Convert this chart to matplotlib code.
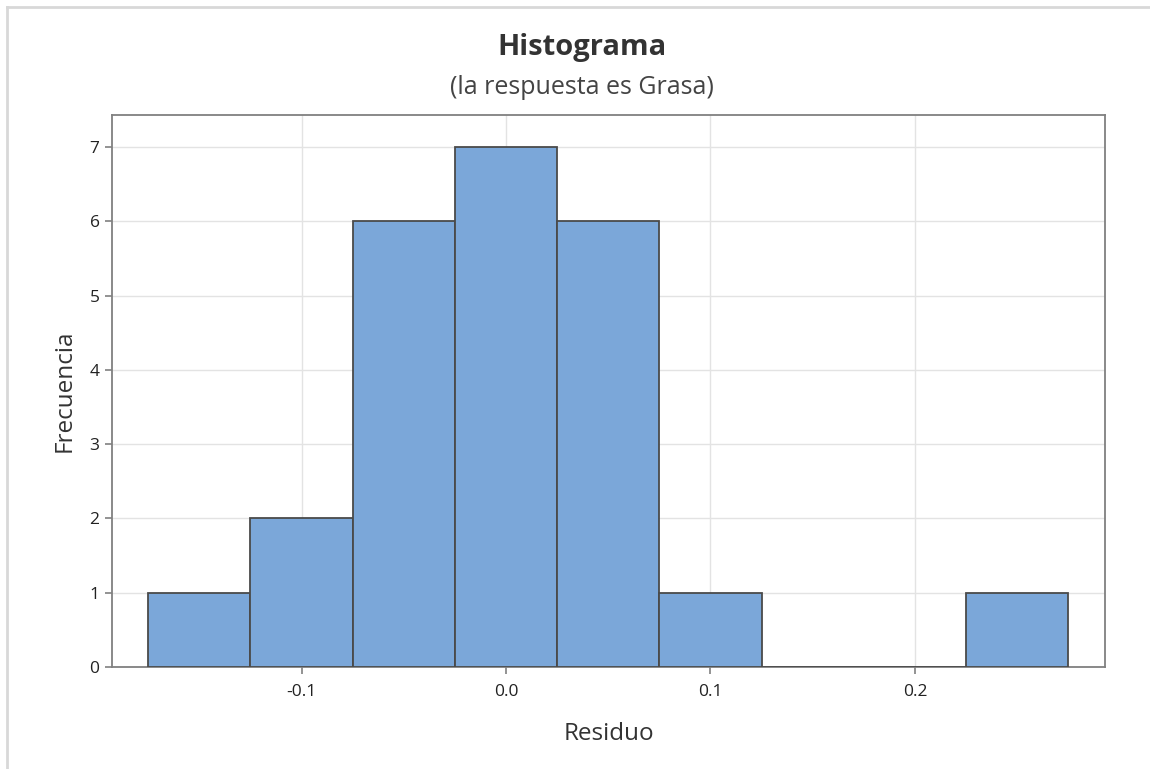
import numpy as np
import matplotlib
matplotlib.use('Agg')
from matplotlib import pyplot as plt
from matplotlib.lines import Line2D

# datos del histograma (centros de clase y frecuencias)
centros = [-0.15, -0.10, -0.05, 0.00, 0.05, 0.10, 0.15, 0.20, 0.25]
frecuencias = [1, 2, 6, 7, 6, 1, 0, 0, 1]
ancho = 0.05
xticks = [-0.1, 0.0, 0.1, 0.2]
xtick_labels = ['-0.1', '0.0', '0.1', '0.2']
yticks = [0, 1, 2, 3, 4, 5, 6, 7]

plt.rcParams['font.family'] = ['Open Sans', 'DejaVu Sans']

fig = plt.figure(figsize=(11.5, 7.69), dpi=100)
ax = fig.add_axes([0.0974, 0.1326, 0.8635, 0.7179])

ax.bar(centros, frecuencias, width=ancho, color='#7BA7D9',
       edgecolor='#4a4a4a', linewidth=1.3, zorder=3)

ax.set_xlim(-0.1927, 0.293)
ax.set_ylim(0, 7.43)
ax.set_xticks(xticks)
ax.set_xticklabels(xtick_labels)
ax.set_yticks(yticks)
ax.grid(True, color='#e3e3e3', linewidth=1.0, zorder=0)
ax.set_axisbelow(True)

for s in ax.spines.values():
    s.set_color('#808080')
    s.set_linewidth(1.3)
ax.tick_params(axis='both', colors='#808080', labelcolor='#222222',
               labelsize=12.5, length=5, width=1.2)
ax.tick_params(axis='x', pad=7)
ax.tick_params(axis='y', pad=4)

ax.set_xlabel('Residuo', fontsize=17.5, color='#333333', va='center')
ax.xaxis.set_label_coords(0.5, -0.1214)
ax.set_ylabel('Frecuencia', fontsize=17.5, color='#333333', va='center')
ax.yaxis.set_label_coords(-0.0473, 0.5)

fig.text(0.506, 0.938, 'Histograma', ha='center', va='center',
         fontsize=21, fontweight='bold', color='#333333')
fig.text(0.506, 0.886, '(la respuesta es Grasa)', ha='center', va='center',
         fontsize=18, color='#444444')

# borde gris del recuadro (arriba e izquierda)
fig.add_artist(Line2D([0.006, 1.0], [0.991, 0.991], color='#d8d8d8', linewidth=2,
                      transform=fig.transFigure))
fig.add_artist(Line2D([0.006, 0.006], [0.0, 0.991], color='#d8d8d8', linewidth=2,
                      transform=fig.transFigure))

fig.savefig('out.png', dpi=100)
